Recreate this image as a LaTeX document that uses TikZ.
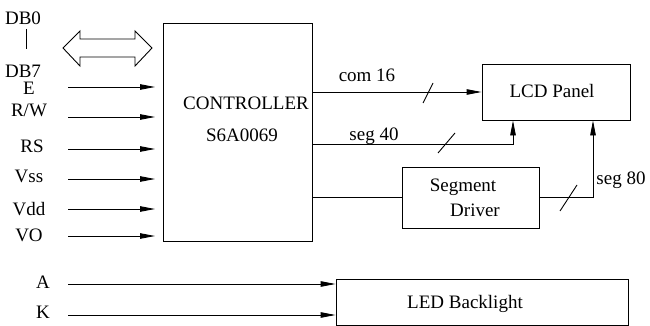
\documentclass[tikz,border=0pt]{standalone}
\usepackage{fontspec}
\setmainfont{Liberation Serif}
\newfontfamily\tmsfont{Liberation Serif}
\usetikzlibrary{arrows.meta}
\begin{document}
\begin{tikzpicture}[x=1pt,y=-1pt,
  every node/.style={font=\tmsfont\fontsize{19}{22}\selectfont, inner sep=0pt},
  txt/.style={anchor=base},
  blk/.style={draw, line width=0.9pt, inner sep=0pt},
  wire/.style={line width=0.9pt},
  arr/.style={wire,-{Triangle[length=15pt,width=5.5pt]}},
]
\useasboundingbox (0,0) rectangle (650,326);

% blocks
\node[blk, minimum width=149pt, minimum height=218pt] (ctrl) at (237.5,132) {};
\node[blk, minimum width=148pt, minimum height=56pt] (lcd) at (556,92) {};
\node[blk, minimum width=137pt, minimum height=61pt] (sdrv) at (470.5,197.5) {};
\node[blk, minimum width=292pt, minimum height=46pt] (led) at (482,302) {};

% block texts
\node[txt] (tc1) at (246,110) {CONTROLLER};
\node[txt] (tc2) at (242,141) {S6A0069};
\node[txt] (tlcd) at (552,98) {LCD Panel};
\node[txt] (ts1) at (463,191) {Segment};
\node[txt] (ts2) at (475,216) {Driver};
\node[txt] (tled) at (465,308) {LED Backlight};

% pin labels
\node[txt] (ldb0) at (23,24.5) {DB0};
\node[txt] (ldb7) at (23,78) {DB7};
\node[txt] (lE) at (29,95) {E};
\node[txt] (lRW) at (29,117) {R/W};
\node[txt] (lRS) at (32,153) {RS};
\node[txt] (lVss) at (29,182) {Vss};
\node[txt] (lVdd) at (29,215) {Vdd};
\node[txt] (lVO) at (29,241) {VO};
\node[txt] (lA) at (43,288) {A};
\node[txt] (lK) at (43,318) {K};

% bus labels
\node[txt] (lc16) at (367,82) {com 16};
\node[txt] (ls40) at (374,140) {seg 40};
\node[txt] (ls80) at (621,184) {seg 80};

% DB0 - DB7 line
\coordinate (dbt) at (26,29);
\coordinate (dbb) at (26,49);
\draw[wire] (dbt) -- (dbb);

% double arrow
\draw[wire, line join=miter] (63,48) -- (80,31) -- (80,39) -- (135,39) -- (135,31) -- (152,48)
  -- (135,66) -- (135,57) -- (80,57) -- (80,66) -- cycle;

% input arrows
\coordinate (inend) at (155,0);
\coordinate (iE) at (68,87);
\coordinate (iRW) at (68,117);
\coordinate (iRS) at (68,149);
\coordinate (iVss) at (68,179);
\coordinate (iVdd) at (68,209);
\coordinate (iVO) at (68,236);
\foreach \p in {iE,iRW,iRS,iVss,iVdd,iVO}
  \draw[arr] (\p) -- (\p -| inend);

% backlight arrows
\coordinate (iA) at (68,284);
\coordinate (iK) at (68,315);
\draw[arr] (iA) -- (iA -| led.west);
\draw[arr] (iK) -- (iK -| led.west);

% controller outputs
\draw[arr] (ctrl.east |- lcd.west) -- (lcd.west);
\coordinate (s40) at (513,144);
\draw[arr] (ctrl.east |- s40) -- (s40) -- (s40 |- lcd.south);
\draw[wire] (ctrl.east |- sdrv.west) -- (sdrv.west);
\coordinate (s80) at (593,197.5);
\draw[arr] (sdrv.east) -- (s80) -- (s80 |- lcd.south);

% bus slashes
\draw[wire] (423,103) -- (433,83);
\draw[wire] (438,153) -- (455,133);
\draw[wire] (560,211) -- (577,185);
\end{tikzpicture}
\end{document}
